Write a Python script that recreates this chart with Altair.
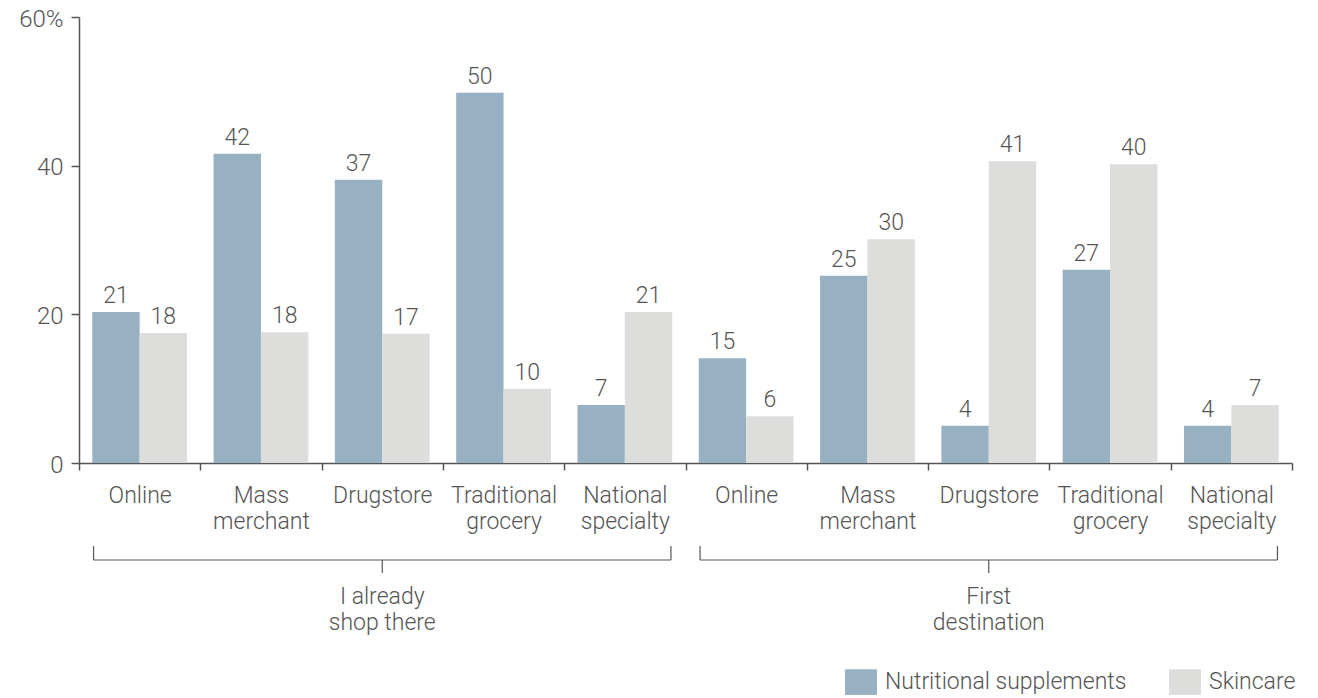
import altair as alt
import pandas as pd

# ---- data ----
groups = ["I already shop there", "First destination"]
group_labels = ["I already\nshop there", "First\ndestination"]
categories = ["Online", "Mass merchant", "Drugstore", "Traditional grocery", "National specialty"]
series = ["Nutritional supplements", "Skincare"]
colors = ["#97b0c2", "#dddddc"]

# bar heights as drawn (percent)
supp_bars = [[20.3, 41.6, 38.1, 49.8, 7.8], [14.1, 25.2, 5.0, 26.0, 5.0]]
skin_bars = [[17.5, 17.6, 17.4, 10.0, 20.3], [6.3, 30.1, 40.6, 40.2, 7.8]]
# value labels as printed
supp_labels = [[21, 42, 37, 50, 7], [15, 25, 4, 27, 4]]
skin_labels = [[18, 18, 17, 10, 21], [6, 30, 41, 40, 7]]

y_ticks = [0, 20, 40, 60]

FONT = "Roboto"
TXT = "#555555"
FS = 23

rows = []
keys = []
for gi, g in enumerate(groups):
    for ci, c in enumerate(categories):
        k = f"{gi}|{c}"
        keys.append(k)
        rows.append({"key": k, "series": series[0], "value": supp_bars[gi][ci], "label": str(supp_labels[gi][ci])})
        rows.append({"key": k, "series": series[1], "value": skin_bars[gi][ci], "label": str(skin_labels[gi][ci])})
df = pd.DataFrame(rows)

n = len(categories)
inset = 0.12
bracket_df = pd.DataFrame({
    "x1": [gi * n + inset for gi in range(len(groups))],
    "x2": [(gi + 1) * n - inset for gi in range(len(groups))],
    "mid": [(gi + 0.5) * n for gi in range(len(groups))],
    "label": group_labels,
})

W, H = 1213, 446

x_enc = alt.X(
    "key:N",
    sort=keys,
    scale=alt.Scale(paddingInner=0, paddingOuter=0),
    axis=alt.Axis(
        title=None, labelAngle=0,
        labelExpr="indexof('' + datum.value, '|') >= 0 ? split(split(datum.value, '|')[1], ' ') : ''",
        labelFontSize=FS, labelLineHeight=26, labelPadding=14,
        labelColor=TXT, labelFont=FONT, labelFontWeight=300, labelLimit=300,
        tickBand="extent", tickSize=7, tickColor=TXT, tickWidth=1.5,
        domainColor=TXT, domainWidth=1.5,
    ),
)
xoff = alt.XOffset("series:N", scale=alt.Scale(domain=series, paddingInner=0, paddingOuter=0.28))
y_enc = alt.Y(
    "value:Q",
    scale=alt.Scale(domain=[0, 60], nice=False),
    axis=alt.Axis(
        title=None, values=y_ticks, grid=False,
        labelExpr="datum.value == 60 ? datum.value + '%' : datum.value",
        labelFontSize=FS + 1, labelColor=TXT, labelFont=FONT, labelFontWeight=300,
        labelPadding=8, labelOffset=2, tickSize=8, tickColor=TXT, tickWidth=1.5,
        domainColor=TXT, domainWidth=1.5,
    ),
)

bars = alt.Chart(df).mark_bar().encode(
    x=x_enc,
    xOffset=xoff,
    y=y_enc,
    color=alt.Color(
        "series:N",
        scale=alt.Scale(domain=series, range=colors),
        legend=alt.Legend(
            title=None, orient="none", legendX=766, legendY=649,
            direction="horizontal", symbolType="M-1,-0.8H1V0.8H-1Z",
            symbolSize=1024, symbolStrokeWidth=0, symbolOpacity=1,
            labelFontSize=FS, labelFont=FONT, labelFontWeight=300, labelColor=TXT,
            labelOffset=8, columnPadding=42, padding=0, labelLimit=400,
        ),
    ),
)

value_text = alt.Chart(df).mark_text(
    baseline="alphabetic", dy=-9, fontSize=FS, font=FONT, fontWeight=300, color=TXT
).encode(
    x=alt.X("key:N", sort=keys, scale=alt.Scale(paddingInner=0, paddingOuter=0)),
    xOffset=xoff,
    y=alt.Y("value:Q"),
    text="label:N",
)

main = alt.layer(bars, value_text)

bx = alt.Scale(domain=[0, len(groups) * n], nice=False, zero=False)
rule_style = dict(color=TXT, strokeWidth=1.2)
base_b = alt.Chart(bracket_df)
hline = base_b.mark_rule(**rule_style).encode(
    x=alt.X("x1:Q", scale=bx, axis=None), x2="x2:Q", y=alt.value(543)
)
lend = base_b.mark_rule(**rule_style).encode(
    x=alt.X("x1:Q", scale=bx, axis=None), y=alt.value(529), y2=alt.value(543)
)
rend = base_b.mark_rule(**rule_style).encode(
    x=alt.X("x2:Q", scale=bx, axis=None), y=alt.value(529), y2=alt.value(543)
)
ctick = base_b.mark_rule(**rule_style).encode(
    x=alt.X("mid:Q", scale=bx, axis=None), y=alt.value(543), y2=alt.value(556)
)
gtext = base_b.mark_text(
    lineBreak="\n", baseline="top", lineHeight=26, fontSize=FS, font=FONT,
    fontWeight=300, color=TXT, align="center"
).encode(
    x=alt.X("mid:Q", scale=bx, axis=None), y=alt.value(569), text="label:N"
)
brackets = alt.layer(hline, lend, rend, ctick, gtext)

chart = alt.layer(main, brackets).resolve_scale(x="independent").properties(
    width=W, height=H,
    autosize=alt.AutoSizeParams(type="none"),
    padding={"left": 71, "top": 9, "right": 10, "bottom": 232},
).configure(font=FONT).configure_view(stroke="transparent", strokeWidth=0)

chart.save("out.html", embed_options={"renderer": "svg", "actions": False})
